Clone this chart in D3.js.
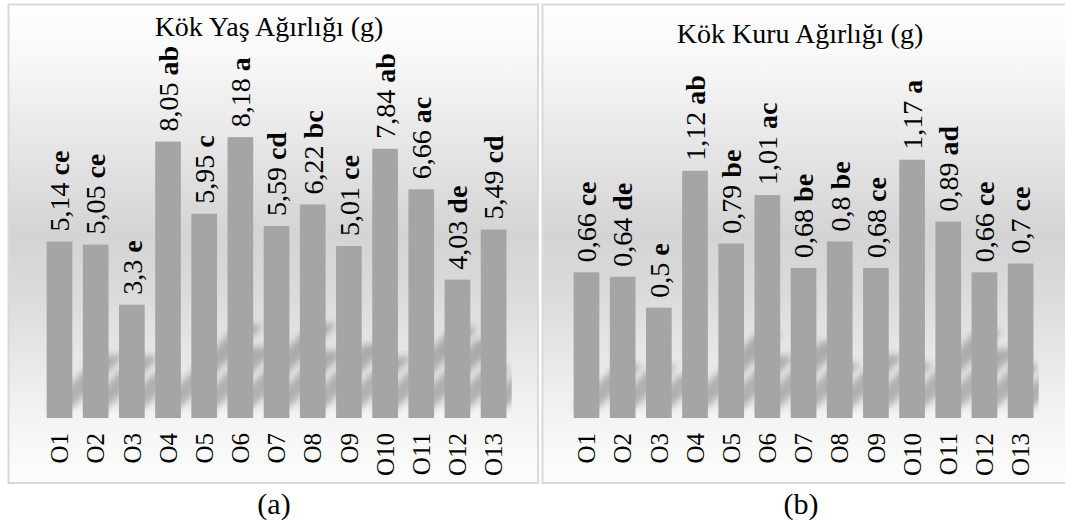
<!DOCTYPE html>
<html>
<head>
<meta charset="utf-8">
<script src="https://cdn.jsdelivr.net/npm/d3@7"></script>
<style>
  html, body { margin: 0; padding: 0; background: #ffffff; }
  svg { display: block; }
</style>
</head>
<body>
<svg id="chart" width="1065" height="523"></svg>
<script>
// Treatments O1..O13
const categories = ["O1", "O2", "O3", "O4", "O5", "O6", "O7", "O8", "O9", "O10", "O11", "O12", "O13"];

// Root fresh weight (g) and significance groups
const freshValues = [5.14, 5.05, 3.3, 8.05, 5.95, 8.18, 5.59, 6.22, 5.01, 7.84, 6.66, 4.03, 5.49];
const freshGroups = ["ce", "ce", "e", "ab", "c", "a", "cd", "bc", "ce", "ab", "ac", "de", "cd"];

// Root dry weight (g) and significance groups
const dryValues = [0.66, 0.64, 0.5, 1.12, 0.79, 1.01, 0.68, 0.8, 0.68, 1.17, 0.89, 0.66, 0.7];
const dryGroups = ["ce", "de", "e", "ab", "be", "ac", "be", "be", "ce", "a", "ad", "ce", "ce"];

// Value axis extents (axis itself hidden)
const freshDomain = [0, 9];
const dryDomain = [0, 1.4];

const titles = ["Kök Yaş Ağırlığı (g)", "Kök Kuru Ağırlığı (g)"];
const captions = ["(a)", "(b)"];

const FONT = "'Liberation Serif', 'Times New Roman', Times, serif";
const svg = d3.select("#chart");
const defs = svg.append("defs");

// vertical grey wash used as panel fill
const grad = defs.append("linearGradient")
  .attr("id", "panelFill").attr("x1", 0).attr("y1", 0).attr("x2", 0).attr("y2", 1);
[[0, "#fefefe"], [0.1, "#f9f9f9"], [0.48, "#d4d4d4"], [0.6, "#dadada"], [0.88, "#f5f5f5"], [1, "#fdfdfd"]]
  .forEach(([o, c]) => grad.append("stop").attr("offset", o).attr("stop-color", c));

defs.append("filter").attr("id", "softShadow")
  .attr("x", "-50%").attr("y", "-50%").attr("width", "200%").attr("height", "200%")
  .append("feGaussianBlur").attr("stdDeviation", 3.5);

const panels = [
  {
    values: freshValues, groups: freshGroups, domain: freshDomain,
    title: titles[0], caption: captions[0],
    frame: [8.5, 4.5, 529.5, 478.5],
    xRange: [41.4, 511.7], titleX: 269, titleY: 36, captionX: 274
  },
  {
    values: dryValues, groups: dryGroups, domain: dryDomain,
    title: titles[1], caption: captions[1],
    frame: [542.5, 4.5, 540, 478.5],
    xRange: [568.4, 1038.7], titleX: 800, titleY: 43, captionX: 801
  }
];

const baseY = 418;
const topY = 109;

const fmt = v => String(v).replace(".", ",");

panels.forEach((p, i) => {
  const g = svg.append("g");

  g.append("rect")
    .attr("x", p.frame[0]).attr("y", p.frame[1])
    .attr("width", p.frame[2]).attr("height", p.frame[3])
    .attr("fill", "url(#panelFill)")
    .attr("stroke", "#d9d9d9").attr("stroke-width", 2);

  const x = d3.scaleBand().domain(categories).range(p.xRange)
    .paddingInner(0.29).paddingOuter(0.145);
  const y = d3.scaleLinear().domain(p.domain).range([baseY, topY]);

  g.append("text")
    .attr("x", p.titleX).attr("y", p.titleY)
    .attr("text-anchor", "middle")
    .style("font-family", FONT).style("font-size", "28px").attr("fill", "#000")
    .text(p.title);

  // perspective shadow cast up and to the right behind each bar
  const clipId = "plotClip" + i;
  defs.append("clipPath").attr("id", clipId).append("rect")
    .attr("x", p.xRange[0]).attr("y", topY)
    .attr("width", p.xRange[1] - p.xRange[0]).attr("height", baseY - topY);

  const shadowLayer = g.append("g").attr("clip-path", `url(#${clipId})`)
    .append("g").attr("filter", "url(#softShadow)");
  shadowLayer.selectAll("polygon").data(p.values).join("polygon")
    .attr("points", (v, k) => {
      const x0 = x(categories[k]), x1 = x0 + x.bandwidth();
      const d = (baseY - y(v)) * 0.3;
      const lift = 10;
      const b = baseY - lift;
      return [[x0, b], [x1, b], [x1 + d, b - d], [x0 + d, b - d]].map(q => q.join(",")).join(" ");
    })
    .attr("fill", "#000").attr("fill-opacity", 0.26);

  g.append("g").selectAll("rect").data(p.values).join("rect")
    .attr("x", (v, k) => x(categories[k]))
    .attr("y", v => y(v))
    .attr("width", x.bandwidth())
    .attr("height", v => baseY - y(v))
    .attr("fill", "#a5a5a5");

  // value + group letters above each bar, rotated
  const labels = g.append("g").selectAll("text").data(p.values).join("text")
    .attr("transform", (v, k) =>
      `translate(${x(categories[k]) + x.bandwidth() / 2},${y(v) - 10}) rotate(-90)`)
    .attr("dy", "0.35em")
    .attr("text-anchor", "start")
    .style("font-family", FONT).style("font-size", "28px").attr("fill", "#000");
  labels.append("tspan").text(v => fmt(v) + " ");
  labels.append("tspan").style("font-weight", "bold").text((v, k) => p.groups[k]);

  const axis = g.append("g")
    .attr("transform", `translate(0,${baseY})`)
    .call(d3.axisBottom(x).tickSize(0).tickPadding(0));
  axis.select(".domain").remove();
  axis.selectAll(".tick text")
    .attr("transform", "rotate(-90)")
    .attr("x", -15).attr("y", 0).attr("dy", "0.35em")
    .style("text-anchor", "end")
    .style("font-family", FONT).style("font-size", "25px").attr("fill", "#000");

  svg.append("text")
    .attr("x", p.captionX).attr("y", 514)
    .attr("text-anchor", "middle")
    .style("font-family", FONT).style("font-size", "30px").attr("fill", "#000")
    .text(p.caption);
});
</script>
</body>
</html>
